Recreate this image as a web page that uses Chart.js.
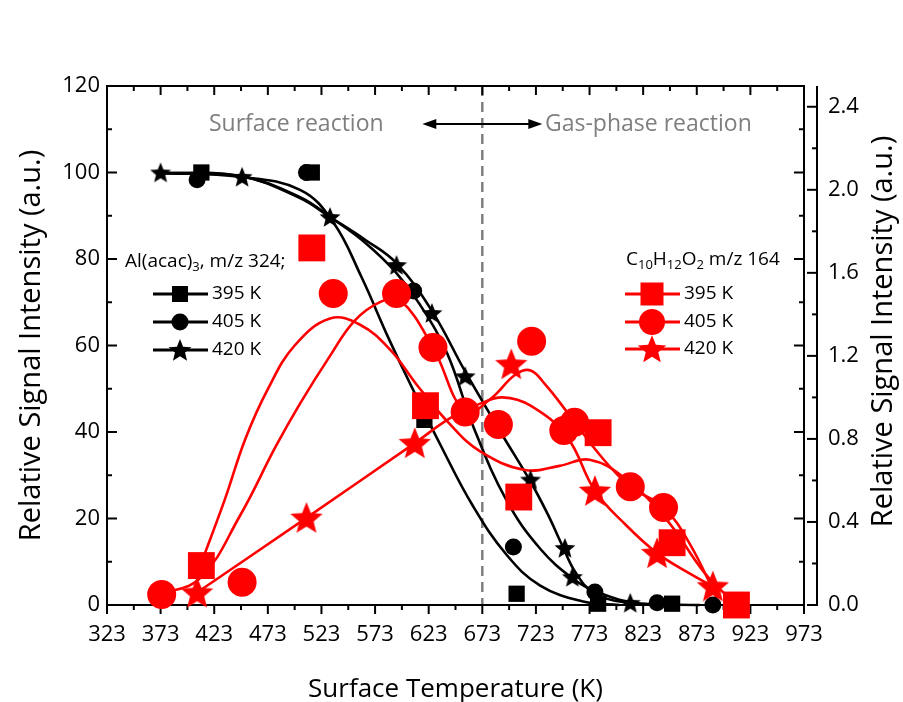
<!DOCTYPE html>
<html>
<head>
<meta charset="utf-8">
<script src="https://cdn.jsdelivr.net/npm/chart.js@4.4.0/dist/chart.umd.min.js"></script>
<style>
  html, body { margin: 0; padding: 0; background: #fff; }
  #wrap { width: 903px; height: 702px; }
</style>
</head>
<body>
<div id="wrap"><canvas id="chart" width="903" height="702"></canvas></div>
<script>
// axis ticks
const tempTicks = [323, 373, 423, 473, 523, 573, 623, 673, 723, 773, 823, 873, 923, 973];
const leftTicks = [0, 20, 40, 60, 80, 100, 120];
const rightTicks = [0, 0.4, 0.8, 1.2, 1.6, 2.0, 2.4];
const boundaryT = 673;

// Al(acac)3, m/z 324 (left axis) - measured points
const al395T = [411, 514, 619, 705, 781, 850];
const al395Y = [100, 100, 42.8, 2.6, 0.3, 0.3];
const al405T = [407, 509, 609, 702, 778, 836, 888];
const al405Y = [98.3, 100, 72.6, 13.4, 3.0, 0.5, 0];
const al420T = [373, 449, 531, 593, 626, 657, 718, 750, 757, 811];
const al420Y = [100, 99.0, 89.7, 78.6, 67.5, 52.9, 29.0, 13.2, 6.5, 0.5];

// Al(acac)3 fitted curves
const al395FitT = [372, 447, 503, 534, 560, 585, 608, 634, 664, 696, 727, 767, 801];
const al395FitY = [99.9, 99.0, 96.0, 88.5, 76.0, 62.0, 50.0, 37.0, 23.0, 11.5, 4.5, 0.8, 0];
const al405FitT = [372, 447, 503, 534, 564, 592, 615, 640, 665, 696, 727, 758, 780, 820, 876];
const al405FitY = [99.9, 99.2, 94.3, 89.2, 83.7, 77.0, 69.4, 58.3, 41.0, 24.0, 13.0, 6.0, 3.0, 0.3, 0];
const al420FitT = [372, 447, 503, 531, 564, 593, 626, 657, 690, 718, 734, 748, 760, 776, 804, 857];
const al420FitY = [99.9, 99.2, 94.1, 89.7, 84.4, 79.0, 68.0, 54.0, 40.0, 28.5, 21.0, 13.5, 7.5, 3.0, 0.7, 0];

// C10H12O2, m/z 164 (right axis) - measured points
const pr395T = [411, 514, 620, 707, 781, 850, 910];
const pr395Y = [0.19, 1.72, 0.96, 0.52, 0.83, 0.30, 0.0];
const pr405T = [374, 449, 534, 593, 627, 657, 688, 719, 749, 759, 811, 842];
const pr405Y = [0.05, 0.11, 1.50, 1.50, 1.24, 0.93, 0.87, 1.27, 0.84, 0.88, 0.57, 0.47];
const pr420T = [407, 509, 610, 700, 778, 836, 888];
const pr420Y = [0.06, 0.42, 0.78, 1.16, 0.55, 0.25, 0.09];

// C10H12O2 spline curves
const pr395FitT = [410, 433, 452, 473, 498, 531, 559, 587, 612, 643, 671, 713, 745, 773, 806, 845, 881, 910];
const pr395FitY = [0.19, 0.51, 0.80, 1.04, 1.25, 1.38, 1.35, 1.23, 1.06, 0.87, 0.74, 0.65, 0.67, 0.70, 0.61, 0.41, 0.15, 0.0];
const pr405FitT = [373, 410, 447, 480, 503, 531, 554, 578, 596, 627, 657, 680, 704, 718, 732, 752, 783, 811, 842, 867, 892];
const pr405FitY = [0.05, 0.13, 0.43, 0.76, 0.97, 1.20, 1.37, 1.46, 1.47, 1.24, 0.93, 0.99, 1.11, 1.13, 1.06, 0.93, 0.72, 0.57, 0.47, 0.29, 0.03];
const pr420FitT = [407, 509, 610, 643, 671, 692, 718, 752, 778, 806, 836, 867, 888];
const pr420FitY = [0.06, 0.42, 0.78, 0.90, 0.97, 1.00, 0.96, 0.81, 0.55, 0.39, 0.25, 0.15, 0.09];

const RED = '#ff0000';
const BLACK = '#000000';
const FONT = "'Open Sans', 'DejaVu Sans', sans-serif";

function pts(xs, ys) {
  return xs.map((x, i) => ({ x: x, y: ys[i] }));
}

// filled five-point star drawn into its own little canvas
function starImg(r, color) {
  const s = Math.ceil(2 * r) + 2;
  const c = document.createElement('canvas');
  c.width = c.height = s;
  const g = c.getContext('2d');
  g.fillStyle = color;
  g.beginPath();
  for (let i = 0; i < 10; i++) {
    const rr = i % 2 ? r * 0.44 : r;
    const a = -Math.PI / 2 + i * Math.PI / 5;
    g.lineTo(s / 2 + rr * Math.cos(a), s / 2 + rr * Math.sin(a) + r * 0.08);
  }
  g.closePath();
  g.fill();
  return c;
}

const blackStar = starImg(11, BLACK);
const redStar = starImg(17, RED);
const blackStarLeg = starImg(12, BLACK);
const redStarLeg = starImg(15, RED);

function marks(xs, ys, style, radius, color, axis) {
  return {
    data: pts(xs, ys), yAxisID: axis, showLine: false,
    pointStyle: style, pointRadius: radius, pointHoverRadius: radius,
    pointBackgroundColor: color, pointBorderColor: color, pointBorderWidth: 0,
    clip: false, order: color === RED ? 0 : 1
  };
}

function curve(xs, ys, color, axis) {
  return {
    data: pts(xs, ys), yAxisID: axis, showLine: true,
    borderColor: color, borderWidth: 2.6, pointRadius: 0,
    tension: 0.4, fill: false,
    clip: false, order: color === RED ? 2 : 3
  };
}

const datasets = [
  curve(al395FitT, al395FitY, BLACK, 'y'),
  curve(al405FitT, al405FitY, BLACK, 'y'),
  curve(al420FitT, al420FitY, BLACK, 'y'),
  curve(pr395FitT, pr395FitY, RED, 'y2'),
  curve(pr405FitT, pr405FitY, RED, 'y2'),
  curve(pr420FitT, pr420FitY, RED, 'y2'),
  marks(al395T, al395Y, 'rect', 11.5, BLACK, 'y'),
  marks(al405T, al405Y, 'circle', 8.5, BLACK, 'y'),
  marks(al420T, al420Y, blackStar, 11, BLACK, 'y'),
  marks(pr395T, pr395Y, 'rect', 19, RED, 'y2'),
  marks(pr405T, pr405Y, 'circle', 14.5, RED, 'y2'),
  marks(pr420T, pr420Y, redStar, 17, RED, 'y2')
];

function line(ctx, x1, y1, x2, y2) {
  ctx.beginPath();
  ctx.moveTo(x1, y1);
  ctx.lineTo(x2, y2);
  ctx.stroke();
}

function minors(major) {
  const out = [];
  for (let i = 0; i < major.length - 1; i++) out.push((major[i] + major[i + 1]) / 2);
  return out;
}

// frame, tick marks and the dashed boundary between the two regimes
const framePlugin = {
  id: 'frame',
  beforeDatasetsDraw(chart) {
    const { ctx, chartArea: a, scales } = chart;
    const x = scales.x, y = scales.y, y2 = scales.y2;
    const rx = a.right + 13;
    ctx.save();

    const bx = x.getPixelForValue(boundaryT);
    ctx.strokeStyle = '#808080';
    ctx.lineWidth = 2.5;
    ctx.setLineDash([10, 6]);
    line(ctx, bx, a.top, bx, a.bottom);
    ctx.setLineDash([]);

    ctx.strokeStyle = BLACK;
    ctx.lineWidth = 2;
    ctx.strokeRect(a.left, a.top, a.right - a.left, a.bottom - a.top);
    line(ctx, rx, a.top, rx, a.bottom + 1);

    tempTicks.forEach(v => {
      const px = x.getPixelForValue(v);
      line(ctx, px, a.bottom, px, a.bottom + 9);
      line(ctx, px, a.top, px, a.top + 9);
    });
    minors(tempTicks).forEach(v => {
      const px = x.getPixelForValue(v);
      line(ctx, px, a.bottom, px, a.bottom + 5);
      line(ctx, px, a.top, px, a.top + 5);
    });
    leftTicks.forEach(v => {
      const py = y.getPixelForValue(v);
      line(ctx, a.left, py, a.left + 10, py);
      line(ctx, a.right, py, a.right - 10, py);
    });
    minors(leftTicks).forEach(v => {
      const py = y.getPixelForValue(v);
      line(ctx, a.left, py, a.left + 5, py);
      line(ctx, a.right, py, a.right - 5, py);
    });
    rightTicks.forEach(v => {
      const py = y2.getPixelForValue(v);
      line(ctx, rx, py, rx - 10, py);
    });
    minors(rightTicks).forEach(v => {
      const py = y2.getPixelForValue(v);
      line(ctx, rx, py, rx - 5, py);
    });
    ctx.restore();
  }
};

function textRuns(ctx, runs, x, y, size) {
  // runs: [text, isSubscript]
  let cx = x;
  runs.forEach(r => {
    const s = r[1] ? Math.round(size * 0.68) : size;
    ctx.font = s + 'px ' + FONT;
    ctx.fillText(r[0], cx, r[1] ? y + size * 0.28 : y);
    cx += ctx.measureText(r[0]).width;
  });
}

function legendMark(ctx, kind, color, x, y) {
  ctx.fillStyle = color;
  const red = color === RED;
  if (kind === 'rect') {
    const h = red ? 11.5 : 8;
    ctx.fillRect(x - h, y - h, 2 * h, 2 * h);
  } else if (kind === 'circle') {
    ctx.beginPath();
    ctx.arc(x, y, red ? 13 : 8.5, 0, Math.PI * 2);
    ctx.fill();
  } else {
    const img = red ? redStarLeg : blackStarLeg;
    ctx.drawImage(img, x - img.width / 2, y - img.height / 2);
  }
}

const notesPlugin = {
  id: 'notes',
  afterDraw(chart) {
    const { ctx, chartArea: a, scales } = chart;
    const bx = scales.x.getPixelForValue(boundaryT);
    ctx.save();
    ctx.textBaseline = 'middle';

    // regime labels and double arrow
    ctx.fillStyle = '#7f7f7f';
    ctx.font = '23px ' + FONT;
    ctx.textAlign = 'left';
    ctx.fillText('Surface reaction', 209, 124);
    ctx.fillText('Gas-phase reaction', 545, 124);
    ctx.strokeStyle = BLACK;
    ctx.fillStyle = BLACK;
    ctx.lineWidth = 2;
    line(ctx, bx - 52, 124, bx + 52, 124);
    [[bx - 60, -1], [bx + 60, 1]].forEach(h => {
      ctx.beginPath();
      ctx.moveTo(h[0], 124);
      ctx.lineTo(h[0] - h[1] * 14, 119);
      ctx.lineTo(h[0] - h[1] * 14, 129);
      ctx.closePath();
      ctx.fill();
    });

    // legend for the black set
    ctx.fillStyle = BLACK;
    textRuns(ctx, [['Al(acac)', false], ['3', true], [', m/z 324;', false]], 125, 262, 19);
    const kinds = ['rect', 'circle', 'star'];
    const labels = ['395 K', '405 K', '420 K'];
    [294, 322, 350].forEach((ly, i) => {
      ctx.strokeStyle = BLACK;
      ctx.lineWidth = 3;
      line(ctx, 153, ly, 208, ly);
      legendMark(ctx, kinds[i], BLACK, 180, ly);
      ctx.fillStyle = BLACK;
      ctx.font = '19px ' + FONT;
      ctx.fillText(labels[i], 212, ly);
    });

    // legend for the red set
    ctx.fillStyle = BLACK;
    textRuns(ctx, [['C', false], ['10', true], ['H', false], ['12', true], ['O', false], ['2', true], [' m/z 164', false]], 626, 260, 19);
    [294, 322, 349].forEach((ly, i) => {
      ctx.strokeStyle = RED;
      ctx.lineWidth = 3;
      line(ctx, 625, ly, 680, ly);
      legendMark(ctx, kinds[i], RED, 652, ly);
      ctx.fillStyle = BLACK;
      ctx.font = '19px ' + FONT;
      ctx.fillText(labels[i], 684, ly);
    });

    // right axis title, reading bottom to top like the left one
    ctx.translate(884, (a.top + a.bottom) / 2 - 14);
    ctx.rotate(-Math.PI / 2);
    ctx.textAlign = 'center';
    ctx.font = '29px ' + FONT;
    ctx.fillText('Relative Signal Intensity (a.u.)', 0, 0);
    ctx.restore();
  }
};

const tickFont = { family: FONT, size: 22 };

new Chart(document.getElementById('chart'), {
  type: 'line',
  data: { datasets: datasets },
  options: {
    responsive: false,
    animation: false,
    devicePixelRatio: 1,
    layout: { padding: { top: 86, left: 0, right: 0, bottom: 0 } },
    plugins: { legend: { display: false }, tooltip: { enabled: false } },
    scales: {
      x: {
        type: 'linear', min: 323, max: 973,
        afterBuildTicks: s => { s.ticks = tempTicks.map(v => ({ value: v })); },
        grid: { display: false, drawTicks: false }, border: { display: false },
        ticks: { font: tickFont, color: BLACK, padding: 17, maxRotation: 0, autoSkip: false },
        title: { display: true, text: 'Surface Temperature (K)', font: { family: FONT, size: 26 }, color: BLACK, padding: { top: 0, bottom: -3 } },
        afterFit: s => { s.height = 97; }
      },
      y: {
        position: 'left', min: 0, max: 120,
        afterBuildTicks: s => { s.ticks = leftTicks.map(v => ({ value: v })); },
        grid: { display: false, drawTicks: false }, border: { display: false },
        ticks: { font: tickFont, color: BLACK, padding: 7 },
        title: { display: true, text: 'Relative Signal Intensity (a.u.)', font: { family: FONT, size: 29 }, color: BLACK, padding: { top: 14 } },
        afterFit: s => { s.width = 107; }
      },
      y2: {
        position: 'right', min: 0, max: 2.5,
        afterBuildTicks: s => { s.ticks = rightTicks.map(v => ({ value: v })); },
        grid: { display: false, drawTicks: false }, border: { display: false },
        ticks: { font: tickFont, color: BLACK, padding: 24, callback: v => v.toFixed(1) },
        afterFit: s => { s.width = 99; }
      }
    }
  },
  plugins: [framePlugin, notesPlugin]
});
</script>
</body>
</html>
